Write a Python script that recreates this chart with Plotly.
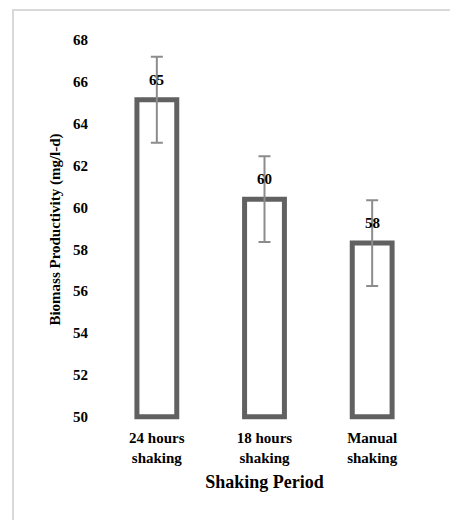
import plotly.graph_objects as go

categories = ["24 hours<br>shaking", "18 hours<br>shaking", "Manual<br>shaking"]
productivity = [65.15, 60.4, 58.3]
errors = [2.05, 2.05, 2.05]
value_labels = ["65", "60", "58"]
y_ticks = [50, 52, 54, 56, 58, 60, 62, 64, 66, 68]

W, H = 450, 520
ML, MR, MT = 103, 24, 38
y_range = [49.8, 68.1]
px_per_unit = 20.944
plot_h = (y_range[1] - y_range[0]) * px_per_unit
MB = H - MT - plot_h
plot_w = W - ML - MR

FONT = "Liberation Serif, Times New Roman, serif"

fig = go.Figure()
fig.add_trace(go.Bar(
    x=categories, y=[v - 50 for v in productivity], base=50,
    marker=dict(color="white", line=dict(color="#616161", width=5)),
    error_y=dict(type="data", array=errors, color="#8c8c8c", thickness=2, width=6),
    width=0.37, hoverinfo="skip",
))

for c, v, t in zip(categories, productivity, value_labels):
    fig.add_annotation(x=c, y=v, text="<b>%s</b>" % t, showarrow=False,
                       yshift=20, font=dict(family=FONT, size=15, color="#000"))

# outer light-gray chart border (left and top visible)
x0 = (13 - ML) / plot_w
x1 = (449 - ML) / plot_w
y1 = 1 + (MT - 10) / plot_h
y0 = -(MB + 20) / plot_h
fig.add_shape(type="rect", xref="paper", yref="paper", x0=x0, x1=x1 + 0.2, y0=y0, y1=y1,
              line=dict(color="#d9d9d9", width=2), fillcolor="rgba(0,0,0,0)", layer="below")

fig.update_layout(
    width=W, height=H,
    margin=dict(l=ML, r=MR, t=MT, b=MB, pad=0),
    paper_bgcolor="white", plot_bgcolor="white",
    showlegend=False,
    font=dict(family=FONT, color="#000", size=15),
    xaxis=dict(
        showline=False, showgrid=False, zeroline=False, ticks="",
        tickfont=dict(family=FONT, size=15, color="#000"),
        ticklabelstandoff=6,
        title=dict(text="<b>Shaking Period</b>", font=dict(family=FONT, size=18, color="#000"), standoff=10),
    ),
    yaxis=dict(
        range=y_range, tickvals=y_ticks, ticktext=["<b>%d</b>" % v for v in y_ticks],
        showline=False, showgrid=False, zeroline=False, ticks="",
        tickfont=dict(family=FONT, size=15, color="#000"),
        ticklabelstandoff=14,
        title=dict(text="<b>Biomass Productivity (mg/l-d)</b>", font=dict(family=FONT, size=15, color="#000"), standoff=8),
    ),
)
fig.update_xaxes(tickvals=categories, ticktext=["<b>%s</b>" % c for c in categories])

fig.write_html("out.html")
